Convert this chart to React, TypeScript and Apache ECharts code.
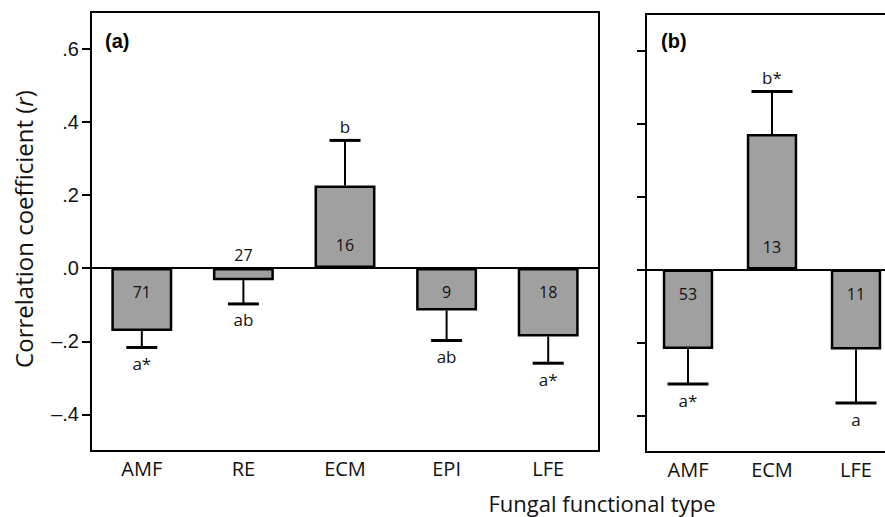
import React, { useEffect, useRef } from "react";
import * as echarts from "echarts";

const categoriesA = ["AMF", "RE", "ECM", "EPI", "LFE"];
const meansA = [-0.172, -0.033, 0.226, -0.116, -0.187];
const errEndA = [-0.217, -0.098, 0.349, -0.198, -0.26];
const countsA = ["71", "27", "16", "9", "18"];
const lettersA = ["a*", "ab", "b", "ab", "a*"];

const categoriesB = ["AMF", "ECM", "LFE"];
const meansB = [-0.218, 0.371, -0.219];
const errEndB = [-0.314, 0.488, -0.366];
const countsB = ["53", "13", "11"];
const lettersB = ["a*", "b*", "a"];

const yTicks = [-0.4, -0.2, 0, 0.2, 0.4, 0.6];
const yMin = -0.5;
const yMax = 0.7;

const SANS = "'Open Sans', 'Noto Sans', sans-serif";
const ARIAL = "'Liberation Sans', Arial, sans-serif";

function fmtTick(v: number): string {
  if (Math.abs(v) < 1e-9) return ".0";
  const d = Math.round(Math.abs(v) * 10);
  return (v < 0 ? "–" : "") + "." + d;
}

function errorSeries(
  gridIdx: number,
  cats: string[],
  means: number[],
  errs: number[],
  counts: string[],
  letters: string[],
  cap: number
) {
  return {
    type: "custom",
    xAxisIndex: gridIdx,
    yAxisIndex: gridIdx,
    clip: false,
    z: 5,
    data: cats.map((c, i) => [i, errs[i]]),
    encode: { x: 0, y: 1 },
    renderItem: (params: any, api: any) => {
      const i = params.dataIndex;
      const base = api.coord([i, means[i]]);
      const end = api.coord([i, errs[i]]);
      const zero = api.coord([i, 0]);
      const neg = means[i] < 0;
      const barPx = Math.abs(base[1] - zero[1]);
      let countY: number;
      if (barPx < 30) countY = neg ? zero[1] - 13 : zero[1] + 13;
      else countY = neg ? zero[1] + 24 : zero[1] - 23;
      const letterY = neg ? end[1] + 16 : end[1] - 14;
      return {
        type: "group",
        children: [
          {
            type: "line",
            shape: { x1: base[0], y1: base[1], x2: end[0], y2: end[1] },
            style: { stroke: "#000", lineWidth: 2 },
          },
          {
            type: "line",
            shape: { x1: end[0] - cap / 2, y1: end[1], x2: end[0] + cap / 2, y2: end[1] },
            style: { stroke: "#000", lineWidth: 3 },
          },
          {
            type: "text",
            style: {
              text: letters[i],
              x: end[0],
              y: letterY,
              align: "center",
              verticalAlign: "middle",
              fill: "#111",
              font: `17px ${SANS}`,
            },
          },
          {
            type: "text",
            style: {
              text: counts[i],
              x: zero[0],
              y: countY,
              align: "center",
              verticalAlign: "middle",
              fill: "#111",
              font: `16px ${SANS}`,
            },
          },
        ],
      };
    },
  };
}

function barSeries(gridIdx: number, means: number[]) {
  return {
    type: "bar",
    xAxisIndex: gridIdx,
    yAxisIndex: gridIdx,
    barWidth: "60%",
    data: means,
    itemStyle: { color: "#a0a0a0", borderColor: "#000", borderWidth: 2.5 },
    z: 2,
    markLine: {
      silent: true,
      symbol: "none",
      label: { show: false },
      lineStyle: { color: "#000", width: 2, type: "solid" },
      data: [{ yAxis: 0 }],
      z: 4,
    },
  };
}

function yAxisDef(gridIdx: number, showLabels: boolean) {
  return {
    type: "value",
    gridIndex: gridIdx,
    min: yMin,
    max: yMax,
    splitLine: { show: false },
    axisLine: { show: true, lineStyle: { color: "#000", width: 2 } },
    axisTick: {
      show: true,
      length: 9,
      inside: false,
      customValues: yTicks,
      lineStyle: { color: "#000", width: 2 },
    },
    axisLabel: {
      show: showLabels,
      customValues: yTicks,
      margin: 12,
      formatter: (v: number) => fmtTick(v),
      color: "#111",
      fontSize: 20,
      fontFamily: ARIAL,
    },
  };
}

function xAxisDef(gridIdx: number, cats: string[]) {
  return {
    type: "category",
    gridIndex: gridIdx,
    data: cats,
    axisLine: { show: true, onZero: false, lineStyle: { color: "#000", width: 2 } },
    axisTick: { show: false },
    axisLabel: { margin: 7, color: "#111", fontSize: 20, fontFamily: SANS },
  };
}

export default function App() {
  const ref = useRef<HTMLDivElement>(null);
  useEffect(() => {
    if (!ref.current) return;
    const chart = echarts.init(ref.current, null, { renderer: "svg" });
    chart.setOption({
      animation: false,
      backgroundColor: "#fff",
      grid: [
        {
          left: 91,
          top: 12,
          width: 508,
          height: 439,
          show: true,
          borderColor: "#000",
          borderWidth: 2,
          backgroundColor: "transparent",
          outerBoundsMode: "none",
          containLabel: false,
        },
        {
          left: 646,
          top: 14,
          width: 252,
          height: 438,
          show: true,
          borderColor: "#000",
          borderWidth: 2,
          backgroundColor: "transparent",
          outerBoundsMode: "none",
          containLabel: false,
        },
      ],
      xAxis: [xAxisDef(0, categoriesA), xAxisDef(1, categoriesB)],
      yAxis: [yAxisDef(0, true), yAxisDef(1, false)],
      series: [
        barSeries(0, meansA),
        barSeries(1, meansB),
        errorSeries(0, categoriesA, meansA, errEndA, countsA, lettersA, 31),
        errorSeries(1, categoriesB, meansB, errEndB, countsB, lettersB, 41),
      ],
      graphic: [
        {
          type: "text",
          x: 105,
          y: 41,
          style: {
            text: "(a)",
            font: `bold 20px ${ARIAL}`,
            fill: "#000",
            verticalAlign: "middle",
          },
        },
        {
          type: "text",
          x: 661,
          y: 41,
          style: {
            text: "(b)",
            font: `bold 20px ${ARIAL}`,
            fill: "#000",
            verticalAlign: "middle",
          },
        },
        {
          type: "text",
          x: 23,
          y: 229,
          rotation: Math.PI / 2,
          style: {
            text: "Correlation coefficient ({i|r})",
            font: `24px ${SANS}`,
            fill: "#111",
            align: "center",
            verticalAlign: "middle",
            rich: {
              i: { fontStyle: "italic", fontSize: 24, fontFamily: SANS, fill: "#111" },
            },
          },
        },
        {
          type: "text",
          x: 602,
          y: 503,
          style: {
            text: "Fungal functional type",
            font: `22px ${SANS}`,
            fill: "#111",
            align: "center",
            verticalAlign: "middle",
          },
        },
      ],
    });
    return () => chart.dispose();
  }, []);
  return (
    <div
      ref={ref}
      style={{ position: "fixed", left: 0, top: 0, width: 885, height: 517 }}
    />
  );
}
